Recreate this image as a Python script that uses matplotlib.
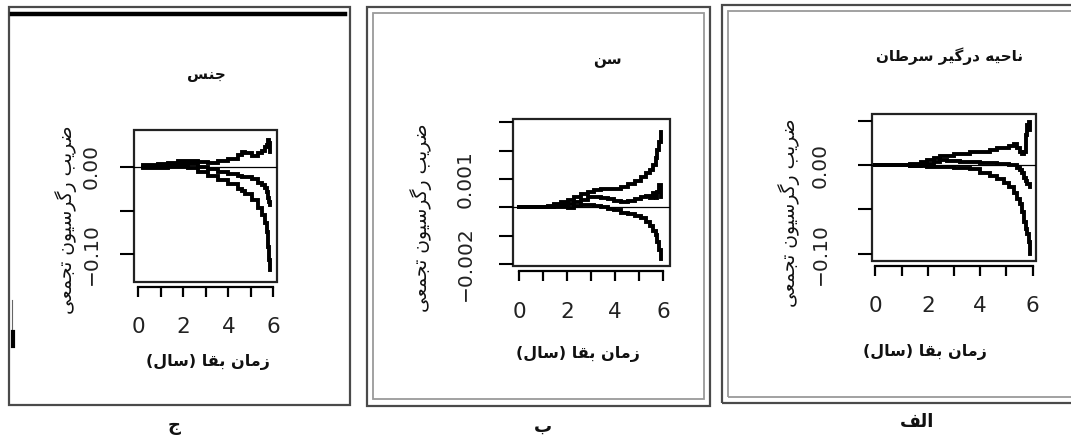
import matplotlib
matplotlib.use("Agg")
import matplotlib.pyplot as plt
from matplotlib.patches import Rectangle
from matplotlib.lines import Line2D
from matplotlib.ticker import FixedLocator, FixedFormatter

plt.rcParams.update({
    "font.family": ["DejaVu Sans"],
    "axes.linewidth": 1.4,
    "lines.solid_joinstyle": "miter",
})

W, H = 1071, 442

# ---- data ----
# panel alef: cancer involved region
t_alef = [0, 1.08, 1.33, 1.72, 1.97, 2.22, 2.48, 2.73, 2.99, 3.24, 3.62, 4.00, 4.38,
          4.64, 4.89, 5.08, 5.27, 5.40, 5.50, 5.59, 5.68, 5.74, 5.78, 5.85, 5.91]
up_alef = [0, 0, 0.0011, 0.0030, 0.0056, 0.0083, 0.0098, 0.0105, 0.0120, 0.0128, 0.0150,
           0.0150, 0.0169, 0.0188, 0.0196, 0.0218, 0.0233, 0.0188, 0.0150, 0.0120, 0.0150,
           0.0338, 0.0451, 0.0489, 0.0395]
est_alef = [0, 0, -0.0008, 0.0004, 0.0011, 0.0030, 0.0053, 0.0049, 0.0041, 0.0038, 0.0030,
            0.0023, 0.0019, 0.0015, 0.0008, 0.0004, -0.0004, -0.0030, -0.0056, -0.0094,
            -0.0143, -0.0181, -0.0218, -0.0211, -0.0244]
lo_alef = [0, 0, -0.0011, -0.0015, -0.0019, -0.0023, -0.0023, -0.0026, -0.0030, -0.0034,
           -0.0045, -0.0086, -0.0124, -0.0158, -0.0203, -0.0248, -0.0320, -0.0380, -0.0436,
           -0.0526, -0.0639, -0.0718, -0.0771, -0.0865, -0.0996]

# panel be: age
t_be = [0, 0.91, 1.19, 1.46, 1.74, 2.02, 2.30, 2.58, 2.86, 3.14, 3.42, 3.70, 3.97, 4.25,
        4.53, 4.81, 5.09, 5.30, 5.44, 5.58, 5.68, 5.76, 5.83, 5.90]
up_be = [0, 0, 0.000047, 0.000118, 0.000188, 0.000259, 0.000353, 0.000471, 0.000553,
         0.000612, 0.000635, 0.000647, 0.000659, 0.000706, 0.000824, 0.000941, 0.001082,
         0.001200, 0.001318, 0.001494, 0.001729, 0.002024, 0.002318, 0.002671]
est_be = [0, 0, 0.000024, 0.000071, 0.000106, 0.000129, 0.000200, 0.000259, 0.000353,
          0.000353, 0.000318, 0.000282, 0.000235, 0.000200, 0.000235, 0.000282, 0.000353,
          0.000400, 0.000318, 0.000494, 0.000318, 0.000553, 0.000788, 0.000376]
lo_be = [0, 0, 0, 0.000012, 0, -0.000012, 0.000035, 0.000071, 0.000082, 0.000047, 0,
         -0.000047, -0.000094, -0.000188, -0.000235, -0.000306, -0.000388, -0.000506,
         -0.000659, -0.000824, -0.000976, -0.001212, -0.001506, -0.001835]

# panel jim: sex
t_jim = [0.22, 0.89, 1.33, 1.78, 2.22, 2.67, 3.11, 3.56, 4.00, 4.44, 4.59, 4.74, 5.04,
         5.33, 5.48, 5.63, 5.70, 5.78, 5.82, 5.87]
up_jim = [0.0015, 0.0030, 0.0038, 0.0061, 0.0068, 0.0057, 0.0046, 0.0068, 0.0091, 0.0133,
          0.0163, 0.0152, 0.0122, 0.0152, 0.0182, 0.0220, 0.0247, 0.0304, 0.0266, 0.0171]
est_jim = [0, 0.0004, 0.0008, 0.0027, 0.0027, 0, -0.0030, -0.0057, -0.0084, -0.0106,
           -0.0114, -0.0122, -0.0144, -0.0182, -0.0209, -0.0247, -0.0285, -0.0361,
           -0.0399, -0.0437]
lo_jim = [-0.0019, -0.0015, -0.0008, 0, -0.0011, -0.0057, -0.0106, -0.0152, -0.0201,
          -0.0258, -0.0281, -0.0312, -0.0380, -0.0475, -0.0551, -0.0646, -0.0741,
          -0.0912, -0.1064, -0.1178]

x_ticks = [0, 1, 2, 3, 4, 5, 6]
x_labels = ["0", "", "2", "", "4", "", "6"]
y_ticks_alef = [0.05, 0.0, -0.05, -0.10]
y_labels_alef = ["", "0.00", "", "\u22120.10"]
y_ticks_be = [0.003, 0.002, 0.001, 0.0, -0.001, -0.002]
y_labels_be = ["", "", "0.001", "", "", "\u22120.002"]
y_ticks_jim = [0.0, -0.05, -0.10]
y_labels_jim = ["0.00", "", "\u22120.10"]

txt_title_alef = "ناحیه درگیر سرطان"
txt_title_be = "سن"
txt_title_jim = "جنس"
txt_ylab = "ضریب رگرسیون تجمعی"
txt_xlab = "زمان بقا (سال)"
cap_alef, cap_be, cap_jim = "الف", "ب", "ج"

# ---- minimal Persian shaping (matplotlib has no bidi / joining) ----
FORMS = {
    "ا": ("\uFE8D", "\uFE8E", None, None),
    "ب": ("\uFE8F", "\uFE90", "\uFE91", "\uFE92"),
    "ت": ("\uFE95", "\uFE96", "\uFE97", "\uFE98"),
    "ج": ("\uFE9D", "\uFE9E", "\uFE9F", "\uFEA0"),
    "ح": ("\uFEA1", "\uFEA2", "\uFEA3", "\uFEA4"),
    "د": ("\uFEA9", "\uFEAA", None, None),
    "ر": ("\uFEAD", "\uFEAE", None, None),
    "ز": ("\uFEAF", "\uFEB0", None, None),
    "س": ("\uFEB1", "\uFEB2", "\uFEB3", "\uFEB4"),
    "ض": ("\uFEBD", "\uFEBE", "\uFEBF", "\uFEC0"),
    "ط": ("\uFEC1", "\uFEC2", "\uFEC3", "\uFEC4"),
    "ع": ("\uFEC9", "\uFECA", "\uFECB", "\uFECC"),
    "ف": ("\uFED1", "\uFED2", "\uFED3", "\uFED4"),
    "ق": ("\uFED5", "\uFED6", "\uFED7", "\uFED8"),
    "ل": ("\uFEDD", "\uFEDE", "\uFEDF", "\uFEE0"),
    "م": ("\uFEE1", "\uFEE2", "\uFEE3", "\uFEE4"),
    "ن": ("\uFEE5", "\uFEE6", "\uFEE7", "\uFEE8"),
    "ه": ("\uFEE9", "\uFEEA", "\uFEEB", "\uFEEC"),
    "و": ("\uFEED", "\uFEEE", None, None),
    "ی": ("\uFBFC", "\uFBFD", "\uFBFE", "\uFBFF"),
    "گ": ("\uFB92", "\uFB93", "\uFB94", "\uFB95"),
}


def fa(text):
    def dual(c):
        return c in FORMS and FORMS[c][2] is not None
    res = []
    i, n = 0, len(text)
    while i < n:
        c = text[i]
        if c not in FORMS:
            res.append(c)
            i += 1
            continue
        joins_prev = i > 0 and dual(text[i - 1])
        if c == "ل" and i + 1 < n and text[i + 1] == "ا":
            res.append("\uFEFC" if joins_prev else "\uFEFB")
            i += 2
            continue
        joins_next = dual(c) and i + 1 < n and text[i + 1] in FORMS
        iso, fin, ini, med = FORMS[c]
        if joins_prev and joins_next:
            res.append(med)
        elif joins_prev:
            res.append(fin)
        elif joins_next:
            res.append(ini)
        else:
            res.append(iso)
        i += 1
    mirror = {"(": ")", ")": "("}
    return "".join(mirror.get(ch, ch) for ch in reversed(res))


fig = plt.figure(figsize=(W / 100, H / 100), dpi=100)


def fx(x):
    return x / W


def fy(y):
    return 1 - y / H


def frame(l, t, r, b, color, lw):
    fig.add_artist(Rectangle((fx(l), fy(b)), fx(r) - fx(l), fy(t) - fy(b),
                             fill=False, edgecolor=color, linewidth=lw,
                             transform=fig.transFigure))


# panel frames
frame(721.5, 4.5, 1075, 403, "#4a4a4a", 1.6)
frame(728, 11, 1075, 397, "#9a9a9a", 1.3)
frame(366.5, 6.5, 710, 406, "#4a4a4a", 1.6)
frame(373, 13, 703.5, 398.5, "#9a9a9a", 1.3)
frame(8.5, 6.5, 349.5, 405, "#4a4a4a", 1.6)
fig.add_artist(Line2D([fx(12), fx(345)], [fy(14), fy(14)], color="black",
                      linewidth=3.2, transform=fig.transFigure))
fig.add_artist(Line2D([fx(12), fx(12)], [fy(300), fy(333)], color="#666666",
                      linewidth=0.8, transform=fig.transFigure))
fig.add_artist(Line2D([fx(13), fx(13)], [fy(332), fy(346)], color="black",
                      linewidth=3.0, transform=fig.transFigure))


def panel(box, xlim, ylim, t, est, up, lo, yt, yl, ypad, xpad):
    l, t_, r, b = box
    ax = fig.add_axes([fx(l), fy(b), fx(r) - fx(l), fy(t_) - fy(b)])
    for s in ("top", "right", "left"):
        ax.spines[s].set_visible(False)
    ax.spines["bottom"].set_position(("outward", 3.5))
    ax.spines["bottom"].set_bounds(0, 6)
    ax.spines["bottom"].set_linewidth(1.6)
    ax.add_patch(Rectangle((0, 0), 1, 1, transform=ax.transAxes, fill=False,
                           edgecolor="#222222", linewidth=1.6, clip_on=False))
    for yy in (up, est, lo):
        ax.step(t, yy, where="post", color="black", linewidth=2.8)
    ax.axhline(0, color="black", linewidth=0.9)
    ax.set_xlim(*xlim)
    ax.set_ylim(*ylim)
    ax.xaxis.set_major_locator(FixedLocator(x_ticks))
    ax.xaxis.set_major_formatter(FixedFormatter(x_labels))
    ax.yaxis.set_major_locator(FixedLocator(yt))
    ax.yaxis.set_major_formatter(FixedFormatter(yl))
    ax.tick_params(axis="x", length=7.5, width=1.6, pad=xpad, labelsize=15.5,
                   colors="black", labelcolor="#222222")
    ax.tick_params(axis="y", length=10, width=1.5, pad=ypad, labelsize=14.5,
                   labelrotation=90, labelcolor="#222222")
    for lab in ax.get_yticklabels():
        lab.set_va("center")
    return ax


panel((871.7, 113.5, 1035.5, 261), (-0.145, 6.11), (-0.108, 0.058),
      t_alef, est_alef, up_alef, lo_alef, y_ticks_alef, y_labels_alef, 20, 14)
panel((512.5, 119.5, 669.5, 266), (-0.27, 6.26), (-0.00207, 0.0031),
      t_be, est_be, up_be, lo_be, y_ticks_be, y_labels_be, 17, 15)
panel((134, 130, 276.5, 282), (-0.19, 6.14), (-0.1316, 0.0419),
      t_jim, est_jim, up_jim, lo_jim, y_ticks_jim, y_labels_jim, 14, 14)

# titles, axis labels, captions
tkw = dict(ha="center", va="center", color="#111111", fontweight="bold")
fig.text(fx(949), fy(56), fa(txt_title_alef), fontsize=11, **tkw)
fig.text(fx(607), fy(60), fa(txt_title_be), fontsize=11, **tkw)
fig.text(fx(206), fy(74), fa(txt_title_jim), fontsize=11, **tkw)

for x, y in ((925, 352), (578, 354), (208, 362)):
    fig.text(fx(x), fy(y), fa(txt_xlab), fontsize=11.5, **tkw)
for x, y in ((789, 213), (421, 218), (66, 220)):
    fig.text(fx(x), fy(y), fa(txt_ylab), fontsize=13.5, rotation=90,
             ha="center", va="center", color="#111111")

for x, y, c in ((917, 422, cap_alef), (543, 427, cap_be), (174, 426, cap_jim)):
    fig.text(fx(x), fy(y), fa(c), fontsize=13, **tkw)

fig.savefig("out.png", dpi=100, facecolor="white")
